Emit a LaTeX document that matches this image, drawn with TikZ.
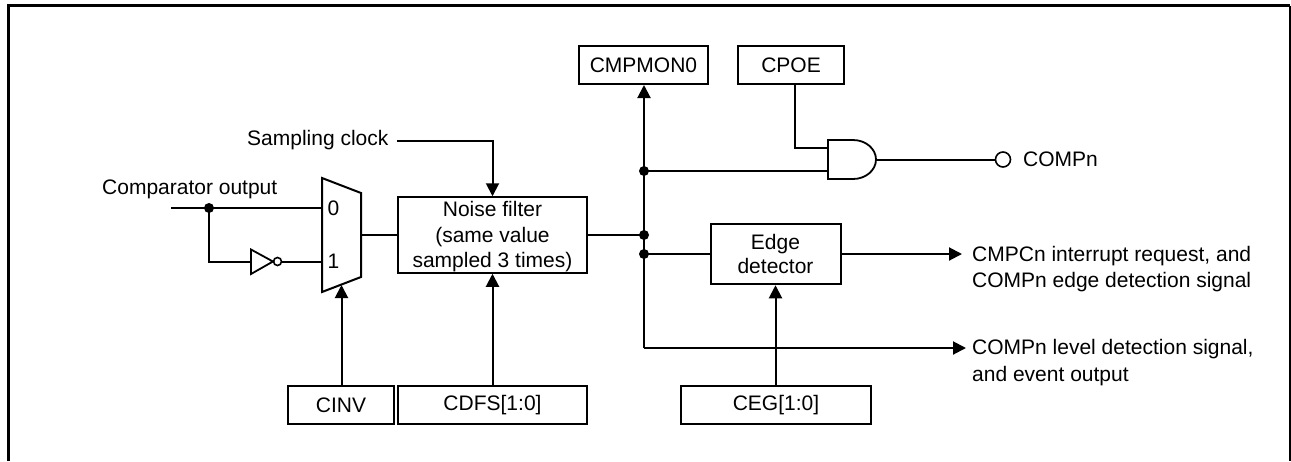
\documentclass[tikz,border=0pt]{standalone}
\usepackage{fontspec}
\setmainfont{Liberation Sans}
\usetikzlibrary{arrows.meta}
\tikzset{
  every node/.style={font=\fontsize{21}{25.5}\selectfont},
  wire/.style={line width=2pt,line join=miter},
  arr/.style={wire,-{Triangle[length=13pt,width=13pt]}},
  gatepart/.style={line width=1.8pt,line join=miter,fill=white},
  dotnode/.style={circle,fill=black,draw=none,minimum size=10pt,inner sep=0pt},
  regbox/.style={draw,line width=2pt,inner sep=0pt,minimum height=38pt,align=center},
  lbl/.style={inner sep=0pt,align=left,anchor=west},
  outlbl/.style={lbl,anchor=north west,font=\fontsize{21}{26.5}\selectfont},
}
\begin{document}
\begin{tikzpicture}[x=1pt,y=-1pt]
\useasboundingbox (0,0) rectangle (1291,461);
% outer frame
\draw[line width=3pt] (8.5,461) -- (8.5,5.5) -- (1290,5.5);
\draw[line width=2pt] (1290,5.5) -- (1290,461);

% boxes
\node[regbox,minimum width=106pt] (cinv) at (341,405) {CINV};
\node[regbox,minimum width=189pt] (cdfs) at (492.5,405) {CDFS[1:0]};
\node[regbox,minimum width=189.5pt] (ceg) at (776,405) {CEG[1:0]};
\node[regbox,minimum width=129pt] (cmpmon) at (643.5,65) {CMPMON0};
\node[regbox,minimum width=106pt] (cpoe) at (791,65) {CPOE};
\node[regbox,minimum width=189pt,minimum height=75.5pt] (nf) at (492.5,235) {\rule{0pt}{19pt}Noise filter\\(same value\\sampled 3 times)};
\node[regbox,minimum width=130pt,minimum height=60.5pt] (edge) at (775.5,254) {Edge\\[-1pt]detector};

% labels
\node[lbl] (lcomp) at (102,189) {Comparator output};
\node[lbl] (lsamp) at (247,140) {Sampling clock};
\node[lbl] (lcompn) at (1023,159) {COMPn};
\node[outlbl] (lint) at (972,246) {CMPCn interrupt request, and\\COMPn edge detection signal};
\node[outlbl] (llev) at (972,339.5) {COMPn level detection signal,\\and event output};

% mux
\draw[wire] (322,178) -- (361,193) -- (361,277) -- (322,292) -- cycle;
\node[inner sep=0pt] (m0) at (333.5,208) {0};
\node[inner sep=0pt] (m1) at (333.5,261.5) {1};
\coordinate (muxin0) at (322,208);
\coordinate (muxin1) at (322,261.5);
\coordinate (muxout) at (361,235);
\coordinate (muxsel) at (341.5,285);

% comparator input
\coordinate (start) at (171,208);
\node[dotnode] (d1) at (209,208) {};
\coordinate (invin) at (251,261.5);
\draw[wire] (start) -- (muxin0);
\draw[wire] (d1.center) |- (invin);
% inverter
\draw[gatepart] (251,249.5) -- (273,261.5) -- (251,274) -- cycle;
\node[circle,draw,line width=1.6pt,minimum size=8pt,inner sep=0pt] (bub) at (277.5,261.5) {};
\draw[wire] (bub.east) -- (muxin1);

% noise filter connections
\draw[wire] (muxout) -- (nf.west);
\coordinate (sclk) at (397,140.5);
\draw[arr] (sclk) -| (nf.north);
\draw[arr] (cdfs.north) -- (nf.south);
\draw[arr] (cinv.north -| muxsel) -- (muxsel);

% bus
\node[dotnode] (d2) at (644,171) {};
\node[dotnode] (d3) at (644,235) {};
\node[dotnode] (d4) at (644,254) {};
\coordinate (busend) at (644,348);
\coordinate (levout) at (966,348);
\coordinate (intout) at (962,254);
\draw[wire] (nf.east) -- (d3.center);
\draw[arr] (busend) -- (cmpmon.south -| busend);
\draw[arr] (busend) -- (levout);
\draw[wire] (d4.center) -- (edge.west);
\draw[arr] (edge.east) -- (intout);
\draw[arr] (ceg.north -| edge.south) -- (edge.south);

% AND gate
\draw[gatepart] (828,140) -- (853,140) .. controls (866,140) and (876,149) .. (876,159.5)
  .. controls (876,170) and (866,179) .. (853,179) -- (828,179) -- cycle;
\coordinate (andin1) at (828,148);
\coordinate (andin2) at (828,171);
\coordinate (andout) at (876,159.5);
\coordinate (cpoeout) at (795,84);
\draw[wire] (cpoeout) |- (andin1);
\draw[wire] (d2.center) -- (andin2);
\node[circle,draw,line width=1.6pt,minimum size=15pt,inner sep=0pt] (compn) at (1003,159.5) {};
\draw[line width=2pt] (andout) -- (compn.west);
\end{tikzpicture}
\end{document}
